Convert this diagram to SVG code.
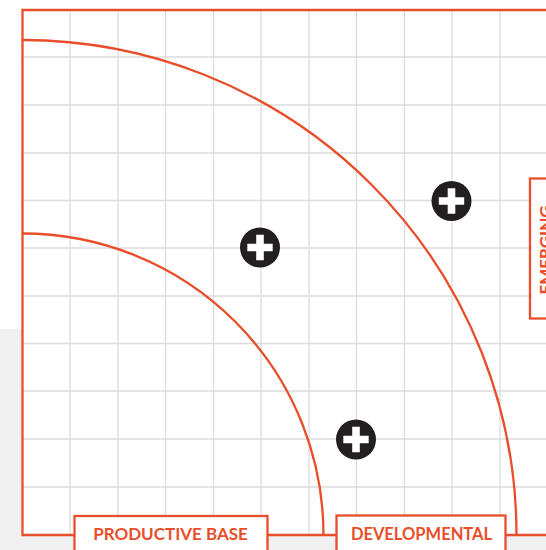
<svg xmlns="http://www.w3.org/2000/svg" width="546" height="550" viewBox="0 0 546 550">
<style>
.g{stroke:#dcdcdc;stroke-width:1.3;fill:none}
.f{stroke:#e94e2b;stroke-width:2.300;fill:none}
.b{stroke:#e94e2b;stroke-width:2.300;fill:#fff}
.t{font-family:"Lato","Liberation Sans",sans-serif;font-weight:700;font-size:17px;fill:#e94e2b;text-anchor:middle}
.c{fill:#231f20}
.p{fill:#fff}
</style>
<rect width="546" height="550" fill="#fff"/>
<path d="M0 329H22.500V535H546V550H0Z" fill="#f0f0f0"/>
<g id="grid">
<rect x="22.500" y="10" width="523.500" height="525" fill="#fff"/>
<path class="g" d="M70 10V535M118 10V535M165.500 10V535M213.500 10V535M261 10V535M309 10V535M356.500 10V535M404.500 10V535M452 10V535M500 10V535M22 57H546M22 105H546M22 153H546M22 200.500H546M22 248H546M22 296H546M22 343.500H546M22 391H546M22 439H546M22 487H546"/>
</g>
<g id="connectors">
<path class="f" d="M546 10H22.500V535H546"/>
<path class="f" d="M22.500 40A494 495 0 0 1 516.500 535"/>
<path class="f" d="M22.500 233.500A301 301.500 0 0 1 323.500 535"/>
</g>
<g id="productive-base">
<rect class="b" x="74.500" y="516" width="193" height="44"/>
<text class="t" x="170.500" y="540">PRODUCTIVE BASE</text>
</g>
<g id="developmental">
<rect class="b" x="336.500" y="515.500" width="169" height="44"/>
<text class="t" x="421.500" y="540" style="font-size:16.500px">DEVELOPMENTAL</text>
</g>
<g id="emerging">
<rect class="b" x="530" y="178.500" width="40" height="140"/>
<text class="t" transform="translate(552 250) rotate(-90)">EMERGING</text>
</g>
<g id="plus-1">
<circle class="c" cx="260" cy="247.500" r="20"/>
<path class="p" d="M256.200 234.700H263.800V243.700H272.700V251.300H263.800V260.300H256.200V251.300H247.300V243.700H256.200Z"/>
</g>
<g id="plus-2">
<circle class="c" cx="451.500" cy="201" r="20"/>
<path class="p" d="M447.700 188.200H455.300V197.200H464.200V204.800H455.300V213.800H447.700V204.800H438.800V197.200H447.700Z"/>
</g>
<g id="plus-3">
<circle class="c" cx="356" cy="439.500" r="20"/>
<path class="p" d="M352.200 426.700H359.800V435.700H368.700V443.300H359.800V452.300H352.200V443.300H343.300V435.700H352.200Z"/>
</g>
</svg>
